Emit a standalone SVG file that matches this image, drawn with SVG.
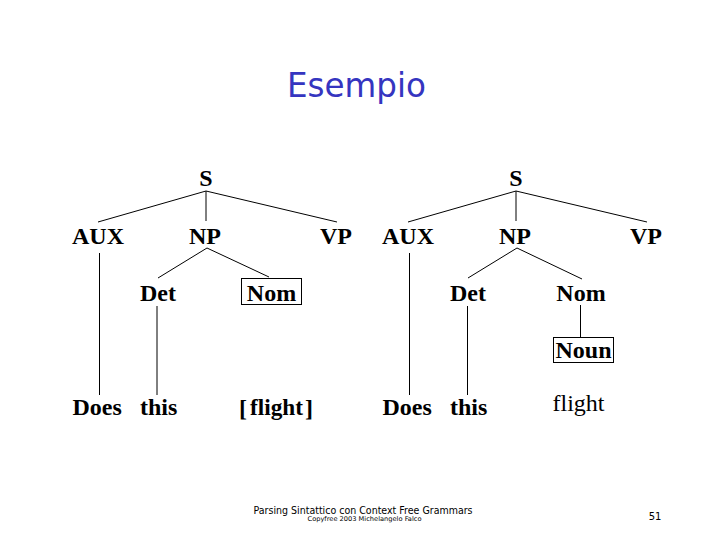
<svg xmlns="http://www.w3.org/2000/svg" width="720" height="540" viewBox="0 0 720 540">
<style>
.t{font-family:"Liberation Serif","Times New Roman",serif;font-weight:bold;font-size:24px;fill:#000}
.r{font-weight:normal}
.m{text-anchor:middle}
.e{stroke:#000;stroke-width:1;fill:none}
.box{stroke:#000;stroke-width:1;fill:none}
.title{font-family:"Comic Sans MS","DejaVu Sans",sans-serif;font-size:33px;fill:#3535C0;text-anchor:middle}
.foot{font-family:"DejaVu Sans","Liberation Sans",sans-serif;fill:#000;text-anchor:middle}
</style>
<rect width="720" height="540" fill="#fff"/>
<text class="title" x="356.5" y="97" textLength="139" lengthAdjust="spacingAndGlyphs">Esempio</text>
<g id="connectors">
<line class="e" x1="206" y1="191" x2="98" y2="222"/>
<line class="e" x1="206" y1="191" x2="206" y2="221"/>
<line class="e" x1="206" y1="191" x2="337" y2="222"/>
<line class="e" x1="207" y1="248" x2="158" y2="278"/>
<line class="e" x1="207" y1="248" x2="269" y2="277"/>
<line class="e" x1="99.5" y1="253" x2="99.5" y2="395"/>
<line class="e" x1="157" y1="306" x2="157" y2="395"/>
<line class="e" x1="516" y1="191" x2="408" y2="222"/>
<line class="e" x1="516" y1="191" x2="516" y2="221"/>
<line class="e" x1="516" y1="191" x2="647" y2="222"/>
<line class="e" x1="517" y1="248" x2="468" y2="278"/>
<line class="e" x1="517" y1="248" x2="582" y2="279"/>
<line class="e" x1="409.5" y1="253" x2="409.5" y2="395"/>
<line class="e" x1="467.5" y1="306" x2="467.5" y2="395"/>
<line class="e" x1="580.5" y1="305" x2="580.5" y2="337"/>
</g>
<g id="S1"><text class="t m" x="206" y="186">S</text></g>
<g id="AUX1"><text class="t m" x="98" y="244">AUX</text></g>
<g id="NP1"><text class="t m" x="205" y="244">NP</text></g>
<g id="VP1"><text class="t m" x="336" y="244">VP</text></g>
<g id="Det1"><text class="t m" x="158" y="301">Det</text></g>
<g id="Nom1"><rect class="box" x="241.5" y="278.5" width="60" height="26"/><text class="t m" x="271.5" y="301">Nom</text></g>
<g id="Does1"><text class="t" x="72.5" y="415">Does</text></g>
<g id="this1"><text class="t" x="140" y="415">this</text></g>
<g id="flight1"><text class="t" x="239" y="416">[</text><text class="t" x="250" y="415" font-size="23" textLength="53" lengthAdjust="spacingAndGlyphs">flight</text><text class="t" x="305" y="416">]</text></g>
<g id="S2"><text class="t m" x="516" y="186">S</text></g>
<g id="AUX2"><text class="t m" x="408" y="244">AUX</text></g>
<g id="NP2"><text class="t m" x="515" y="244">NP</text></g>
<g id="VP2"><text class="t m" x="646" y="244">VP</text></g>
<g id="Det2"><text class="t m" x="468" y="301">Det</text></g>
<g id="Nom2"><text class="t m" x="581" y="301">Nom</text></g>
<g id="Noun2"><rect class="box" x="553.5" y="337.5" width="60" height="25"/><text class="t m" x="583.5" y="358">Noun</text></g>
<g id="Does2"><text class="t" x="382.5" y="415">Does</text></g>
<g id="this2"><text class="t" x="450" y="415">this</text></g>
<g id="flight2"><text class="t r" x="552.5" y="411">flight</text></g>
<text class="foot" x="363" y="514" font-size="10" textLength="219" lengthAdjust="spacingAndGlyphs">Parsing Sintattico con Context Free Grammars</text>
<text class="foot" x="364.5" y="521" font-size="6.5" textLength="114" lengthAdjust="spacingAndGlyphs">Copyfree 2003 Michelangelo Falco</text>
<text class="foot" x="655" y="520" font-size="10">51</text>
</svg>
